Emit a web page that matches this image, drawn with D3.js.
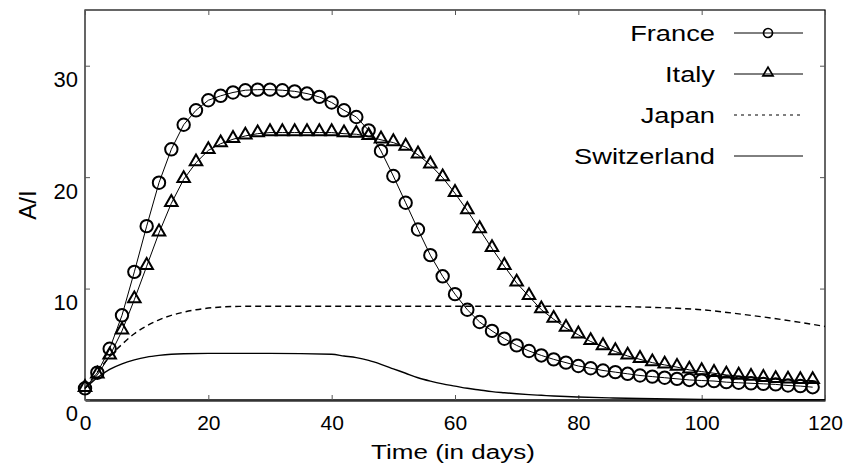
<!DOCTYPE html>
<html>
<head>
<meta charset="utf-8">
<script src="https://cdn.jsdelivr.net/npm/d3@7"></script>
<style>
	body { margin: 0; background: #fff; }
	text { font-family: "Liberation Sans", Arial, Helvetica, sans-serif; fill: #000; }
</style>
</head>
<body>
<div id="cContainer"></div>
<script>
// values
var days = d3.range(0, 120, 2);
var france = [1.05, 2.45, 4.6, 7.6, 11.5, 15.6, 19.5, 22.5, 24.7, 26.0,
	26.9, 27.3, 27.6, 27.8, 27.85, 27.85, 27.8, 27.7, 27.5, 27.2,
	26.7, 26.0, 25.4, 24.2, 22.35, 20.1, 17.7, 15.3, 13.0, 11.1,
	9.5, 8.1, 7.0, 6.2, 5.5, 4.9, 4.4, 4.0, 3.65, 3.35,
	3.05, 2.85, 2.65, 2.5, 2.35, 2.2, 2.1, 2.0, 1.9, 1.8,
	1.75, 1.7, 1.6, 1.55, 1.5, 1.45, 1.4, 1.3, 1.25, 1.15];
var italy = [1.05, 2.25, 3.95, 6.2, 9.0, 12.0, 15.0, 17.65, 19.8, 21.3,
	22.4, 23.0, 23.4, 23.7, 23.9, 24.0, 24.0, 24.0, 24.0, 24.0,
	24.0, 23.9, 23.85, 23.65, 23.35, 23.1, 22.7, 22.0, 21.1, 19.95,
	18.55, 17.0, 15.3, 13.6, 12.0, 10.5, 9.3, 8.1, 7.25, 6.45,
	5.85, 5.25, 4.8, 4.35, 3.95, 3.65, 3.35, 3.15, 2.95, 2.7,
	2.55, 2.4, 2.25, 2.15, 2.05, 1.95, 1.85, 1.8, 1.75, 1.75];
var japanDays = [0, 2, 4, 6, 8, 10, 12, 15, 18, 21, 25, 30, 40, 50, 60, 70, 80, 85, 90, 95, 100, 105, 110, 115, 120];
var japan = [1.05, 2.5, 3.9, 5.0, 5.95, 6.65, 7.2, 7.75, 8.1, 8.3, 8.4, 8.42, 8.42, 8.42, 8.42, 8.42, 8.42, 8.4, 8.35, 8.25, 8.1, 7.8, 7.45, 7.05, 6.6];
var swissDays = [0, 2, 4, 6, 8, 10, 12, 14, 16, 20, 30, 40, 42, 44, 46, 48, 50, 52, 54, 56, 58, 60,
	62, 64, 66, 68, 70, 72, 74, 76, 78, 80, 85, 90, 95, 100, 110, 120];
var swiss = [1.05, 2.0, 2.75, 3.25, 3.6, 3.85, 4.0, 4.1, 4.15, 4.18, 4.18, 4.1, 3.95, 3.8, 3.55, 3.2, 2.8, 2.4, 2.0, 1.7, 1.45, 1.25,
	1.05, 0.9, 0.75, 0.65, 0.56, 0.48, 0.42, 0.36, 0.31, 0.27, 0.19, 0.13, 0.09, 0.06, 0.03, 0.02];
var xTicks = [0, 20, 40, 60, 80, 100, 120];
var yTicks = [0, 10, 20, 30];
var legendNames = ["France", "Italy", "Japan", "Switzerland"];

var width = 848, height = 472;
var mLeft = 85, mRight = 825, mTop = 10, mBottom = 400;

var svg = d3.select("#cContainer").append("svg")
			.attr("width", width)
			.attr("height", height);

var x = d3.scaleLinear().domain([0, 120]).range([mLeft, mRight]);
var y = d3.scaleLinear().domain([0, 35]).range([mBottom, mTop]);

function pairs(xs, ys) {
	return xs.map(function(d, i) { return [d, ys[i]]; });
}

// frame
svg.append("rect")
	.attr("x", mLeft).attr("y", mTop)
	.attr("width", mRight - mLeft).attr("height", mBottom - mTop)
	.attr("fill", "none")
	.attr("stroke", "#000")
	.attr("stroke-width", 1.2);

// axes, ticks pointing inward
var xAxis = svg.append("g")
	.attr("transform", "translate(0," + mBottom + ")")
	.call(d3.axisBottom(x).tickValues(xTicks).tickSizeInner(-5).tickSizeOuter(0).tickPadding(15));
xAxis.select(".domain").attr("stroke", "#333").attr("stroke-width", 2.5);
xAxis.selectAll("text").attr("font-size", 21).attr("font-family", null);
xAxis.selectAll("line").attr("stroke", "#555");

var yAxis = svg.append("g")
	.attr("transform", "translate(" + mLeft + ",0)")
	.call(d3.axisLeft(y).tickValues(yTicks).tickSizeInner(-5).tickSizeOuter(0).tickPadding(7));
yAxis.select(".domain").remove();
yAxis.selectAll("text").attr("font-size", 22).attr("font-family", null)
	.attr("transform", "translate(0,14)");
yAxis.selectAll("text").filter(function(d) { return d === 0; })
	.attr("transform", "translate(0,13)");
yAxis.selectAll("line").attr("stroke", "#555");

var topAxis = svg.append("g")
	.attr("transform", "translate(0," + mTop + ")")
	.call(d3.axisTop(x).tickValues(xTicks).tickSizeInner(-5).tickSizeOuter(0).tickFormat(""));
topAxis.select(".domain").remove();
topAxis.selectAll("line").attr("stroke", "#555");

var rightAxis = svg.append("g")
	.attr("transform", "translate(" + mRight + ",0)")
	.call(d3.axisRight(y).tickValues(yTicks).tickSizeInner(-5).tickSizeOuter(0).tickFormat(""));
rightAxis.select(".domain").remove();
rightAxis.selectAll("line").attr("stroke", "#555");

// axis titles
svg.append("text")
	.attr("transform", "translate(453,459) scale(1.24,1)")
	.attr("text-anchor", "middle")
	.attr("font-size", 21)
	.text("Time (in days)");

svg.append("text")
	.attr("transform", "translate(36,205) rotate(-90)")
	.attr("text-anchor", "middle")
	.attr("font-size", 24)
	.text("A/I");

var line = d3.line()
	.x(function(d) { return x(d[0]); })
	.y(function(d) { return y(d[1]); });
var smooth = d3.line()
	.curve(d3.curveMonotoneX)
	.x(function(d) { return x(d[0]); })
	.y(function(d) { return y(d[1]); });

var franceData = pairs(days, france);
var italyData = pairs(days, italy);

svg.append("path")
	.attr("d", smooth(pairs(swissDays, swiss)))
	.attr("fill", "none").attr("stroke", "#000").attr("stroke-width", 1.4);

svg.append("path")
	.attr("d", smooth(pairs(japanDays, japan)))
	.attr("fill", "none").attr("stroke", "#000").attr("stroke-width", 1.4)
	.attr("stroke-dasharray", "6,4");

svg.append("path")
	.attr("d", line(italyData))
	.attr("fill", "none").attr("stroke", "#000").attr("stroke-width", 1);

svg.append("path")
	.attr("d", line(franceData))
	.attr("fill", "none").attr("stroke", "#000").attr("stroke-width", 1);

var tri = d3.symbol().type(d3.symbolTriangle).size(68);
svg.selectAll("path.tri")
	.data(italyData)
	.enter()
	.append("path")
	.attr("class", "tri")
	.attr("d", tri)
	.attr("transform", function(d) { return "translate(" + x(d[0]) + "," + (y(d[1]) - 1) + ")"; })
	.attr("fill", "none")
	.attr("stroke", "#000")
	.attr("stroke-width", 2);

svg.selectAll("circle.fr")
	.data(franceData)
	.enter()
	.append("circle")
	.attr("class", "fr")
	.attr("cx", function(d) { return x(d[0]); })
	.attr("cy", function(d) { return y(d[1]); })
	.attr("r", 6.2)
	.attr("fill", "none")
	.attr("stroke", "#000")
	.attr("stroke-width", 2);

// legend
var legend = svg.selectAll("g.leg")
	.data(legendNames)
	.enter()
	.append("g")
	.attr("class", "leg")
	.attr("transform", function(d, i) { return "translate(0," + (33 + i * 41) + ")"; });

legend.append("text")
	.attr("transform", "translate(715,8) scale(1.24,1)")
	.attr("text-anchor", "end")
	.attr("font-size", 22)
	.text(function(d) { return d; });

legend.append("line")
	.attr("x1", 734).attr("x2", 803)
	.attr("y1", 0).attr("y2", 0)
	.attr("stroke", "#000")
	.attr("stroke-width", function(d) { return d === "Japan" ? 1.2 : 1; })
	.attr("stroke-dasharray", function(d) { return d === "Japan" ? "3,4" : null; });

legend.filter(function(d) { return d === "France"; })
	.append("circle")
	.attr("cx", 768).attr("cy", 0).attr("r", 4.5)
	.attr("fill", "none").attr("stroke", "#000").attr("stroke-width", 1.7);

legend.filter(function(d) { return d === "Italy"; })
	.append("path")
	.attr("d", d3.symbol().type(d3.symbolTriangle).size(45))
	.attr("transform", "translate(768,-1)")
	.attr("fill", "none").attr("stroke", "#000").attr("stroke-width", 1.7);
</script>
</body>
</html>
